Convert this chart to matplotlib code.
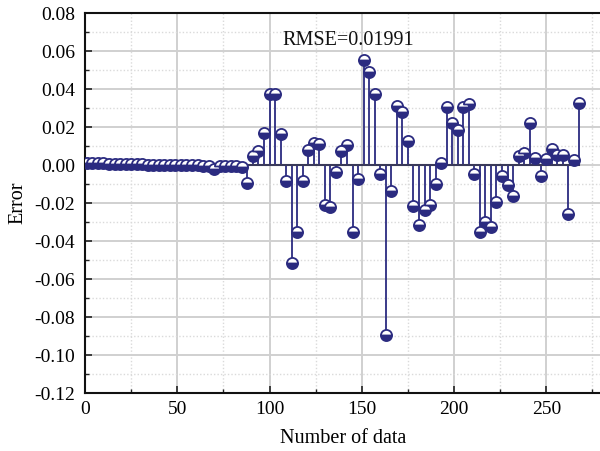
import matplotlib
matplotlib.use("Agg")
import matplotlib.pyplot as plt
from matplotlib.ticker import MultipleLocator, FormatStrFormatter

plt.rcParams["font.family"] = ["Liberation Serif", "DejaVu Serif"]
plt.rcParams["axes.unicode_minus"] = False

# Sample index of each error value
sample_index = list(range(1, 269, 3))

# Prediction error for each sample
errors = [
    0.0010, 0.0011, 0.0011, 0.0010, 0.0009, 0.0008, 0.0007, 0.0006, 0.0006, 0.0005,
    0.0005, 0.0004, 0.0004, 0.0003, 0.0003, 0.0002, 0.0002, 0.0001, 0.0001, 0.0000,
    -0.0001, -0.0002, -0.0003, -0.0021, -0.0006, -0.0005, -0.0005, -0.0006, -0.0011,
    -0.0093, 0.0051, 0.0077, 0.0171, 0.0376, 0.0378, 0.0165, -0.0084, -0.0514, -0.0349,
    -0.0081, 0.0079, 0.0118, 0.0113, -0.0211, -0.0219, -0.0033, 0.0074, 0.0109, -0.0349,
    -0.0071, 0.0553, 0.0490, 0.0376, -0.0045, -0.0892, -0.0133, 0.0311, 0.0282, 0.0127,
    -0.0216, -0.0317, -0.0233, -0.0209, -0.0098, 0.0010, 0.0307, 0.0223, 0.0188, 0.0307,
    0.0323, -0.0045, -0.0352, -0.0298, -0.0323, -0.0193, -0.0058, -0.0105, -0.0160, 0.0051,
    0.0065, 0.0223, 0.0039, -0.0054, 0.0035, 0.0086, 0.0055, 0.0055, -0.0255, 0.0030,
    0.0329,
]

rmse_text = "RMSE=0.01991"
x_label = "Number of data"
y_label = "Error"

navy = "#2b2b80"

fig = plt.figure(figsize=(6.0, 4.51), dpi=100)
ax = fig.add_axes([0.1417, 0.1286, 0.8610, 0.8415])

ax.set_xlim(0, 280)
ax.set_ylim(-0.12, 0.08)

ax.xaxis.set_major_locator(MultipleLocator(50))
ax.xaxis.set_minor_locator(MultipleLocator(25))
ax.yaxis.set_major_locator(MultipleLocator(0.02))
ax.yaxis.set_minor_locator(MultipleLocator(0.01))
ax.yaxis.set_major_formatter(FormatStrFormatter("%.2f"))

ax.grid(True, which="major", color="#d0d0d0", linewidth=1.4, linestyle="-", zorder=0)
ax.grid(True, which="minor", color="#dadada", linewidth=1.0, linestyle=(0, (1, 1.5)), zorder=0)
ax.set_axisbelow(True)

markerline, stemlines, baseline = ax.stem(sample_index, errors, basefmt="-")
plt.setp(stemlines, color=navy, linewidth=1.3)
plt.setp(baseline, color="#3a3a5a", linewidth=1.5)
plt.setp(markerline, marker="o", markersize=8, fillstyle="bottom",
         markerfacecolor=navy, markerfacecoloralt="white",
         markeredgecolor=navy, markeredgewidth=1.3, linestyle="none", zorder=3)

ax.text(0.509, 0.930, rmse_text, transform=ax.transAxes, ha="center", va="center",
        fontsize=14.5, color="#111111")

ax.tick_params(axis="both", which="major", direction="in", length=5, width=1.2,
               labelsize=14, color="#222222", top=False, right=False)
ax.tick_params(axis="y", which="major", pad=7)
ax.tick_params(axis="x", which="major", pad=6)
ax.tick_params(axis="both", which="minor", direction="in", length=3, width=1.0,
               color="#222222", top=False, right=False)

for side in ["left", "bottom", "top"]:
    ax.spines[side].set_linewidth(1.5)
    ax.spines[side].set_color("#111111")
ax.spines["right"].set_visible(False)

ax.set_xlabel(x_label, fontsize=14.5, labelpad=8)
ax.set_ylabel(y_label, fontsize=14.5, labelpad=5)

fig.savefig("out.png", dpi=100)
